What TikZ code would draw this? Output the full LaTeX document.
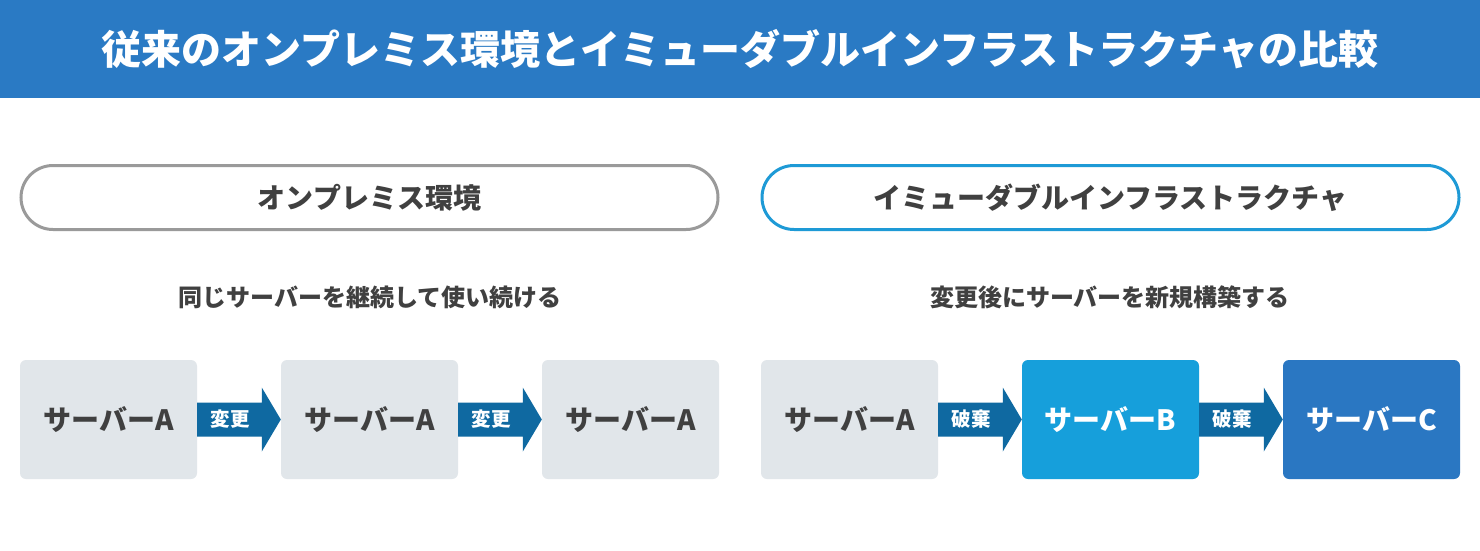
\documentclass[tikz,border=0pt]{standalone}
\usepackage{fontspec}
\setmainfont{Noto Sans CJK JP}
\usetikzlibrary{calc}
\definecolor{hdr}{HTML}{2A7AC4}
\definecolor{txt}{HTML}{404040}
\definecolor{pillgray}{HTML}{9A9A9A}
\definecolor{pillblue}{HTML}{1E9AD6}
\definecolor{boxgray}{HTML}{E1E6EA}
\definecolor{arrowc}{HTML}{0F69A1}
\definecolor{srvb}{HTML}{169FDB}
\definecolor{srvc}{HTML}{2A77C2}
\tikzset{
  pill/.style={draw, line width=3pt, rounded corners=32pt, minimum width=697pt, minimum height=64pt, fill=white, text=txt, font=\fontsize{28}{32}\selectfont\bfseries},
  sub/.style={text=txt, font=\fontsize{24}{28}\selectfont\bfseries},
  srv/.style={rounded corners=6pt, minimum width=177pt, minimum height=119pt, inner sep=0pt, font=\fontsize{28}{32}\selectfont\bfseries},
  lbl/.style={text=white, font=\fontsize{19.5}{22}\selectfont\bfseries, inner sep=0pt},
}
\newcommand{\flowarrow}[3]{%
  \fill[arrowc] ($(#1.east)+(0,-17)$) -- ($(#2.west)+(-19,-17)$) -- ($(#2.west)+(-19,-32)$) -- (#2.west) -- ($(#2.west)+(-19,32)$) -- ($(#2.west)+(-19,17)$) -- ($(#1.east)+(0,17)$) -- cycle;
  \node[lbl] at ($(#1.east)!0.5!(#2.west)+(-9,0)$) {#3};}
\begin{document}
\begin{tikzpicture}[x=1pt,y=-1pt]
\useasboundingbox (0,0) rectangle (1480,550);
\fill[white] (0,0) rectangle (1480,550);
\fill[hdr] (0,0) rectangle (1480,98);
\node[text=white, font=\fontsize{40}{44}\selectfont\bfseries] (title) at (740,49) {従来のオンプレミス環境とイミューダブルインフラストラクチャの比較};
\node[pill, draw=pillgray] (pl) at (369.5,197.5) {オンプレミス環境};
\node[pill, draw=pillblue] (pr) at (1110.5,197.5) {イミューダブルインフラストラクチャ};
\node[sub] (sl) at (370,297) {同じサーバーを継続して使い続ける};
\node[sub] (sr) at (1110,297) {変更後にサーバーを新規構築する};
\node[srv, fill=boxgray, text=txt] (a1) at (108.5,419.5) {サーバーA};
\node[srv, fill=boxgray, text=txt] (a2) at (369.5,419.5) {サーバーA};
\node[srv, fill=boxgray, text=txt] (a3) at (630.5,419.5) {サーバーA};
\node[srv, fill=boxgray, text=txt] (b1) at (849.5,419.5) {サーバーA};
\node[srv, fill=srvb, text=white] (b2) at (1110.5,419.5) {サーバーB};
\node[srv, fill=srvc, text=white] (b3) at (1371.5,419.5) {サーバーC};
\flowarrow{a1}{a2}{変更}
\flowarrow{a2}{a3}{変更}
\flowarrow{b1}{b2}{破棄}
\flowarrow{b2}{b3}{破棄}
\end{tikzpicture}
\end{document}
